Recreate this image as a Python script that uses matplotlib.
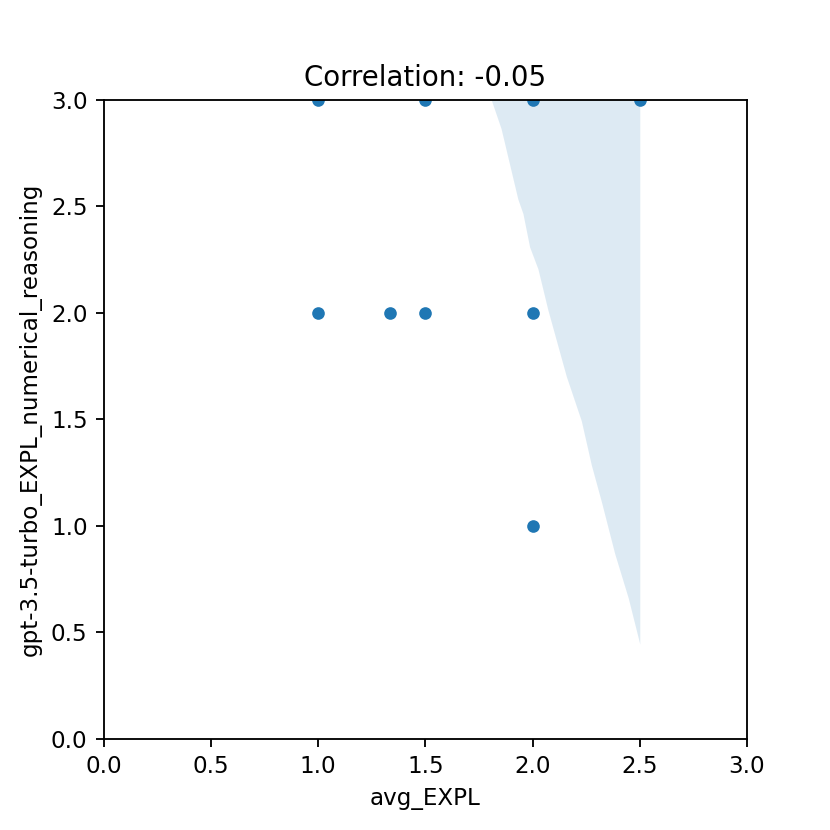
import matplotlib.pyplot as plt
import numpy as np

# scatter points
avg_expl = [1.0, 1.5, 2.0, 2.5, 1.0, 1.333, 1.5, 2.0, 2.0]
gpt_expl = [3.0, 3.0, 3.0, 3.0, 2.0, 2.0, 2.0, 2.0, 1.0]

# lower edge of the confidence band (upper edge lies above the plot)
band_x = [1.80, 1.853, 1.931, 1.955, 1.986, 2.025, 2.071, 2.157, 2.227,
          2.274, 2.321, 2.383, 2.446, 2.50]
band_lo = [3.02, 2.864, 2.534, 2.465, 2.309, 2.205, 2.014, 1.702, 1.493,
           1.285, 1.112, 0.869, 0.661, 0.444]
band_hi = [3.5] * len(band_x)

fig, ax = plt.subplots(figsize=(5, 5), dpi=166)
ax.fill_between(band_x, band_lo, band_hi, color="C0", alpha=0.15, linewidth=0)
ax.scatter(avg_expl, gpt_expl, color="C0", s=30, linewidths=0)
ax.set_xlim(0, 3)
ax.set_ylim(0, 3)
ax.set_xlabel("avg_EXPL")
ax.set_ylabel("gpt-3.5-turbo_EXPL_numerical_reasoning")
ax.set_title("Correlation: -0.05")
fig.savefig("out.png")
